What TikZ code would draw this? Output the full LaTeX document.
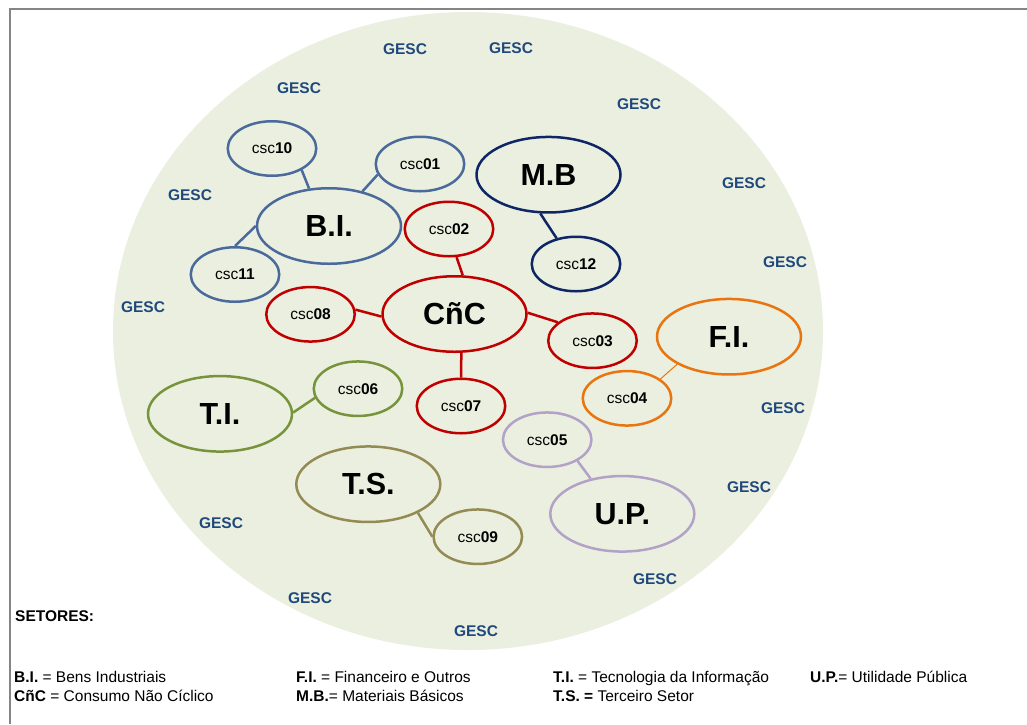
\documentclass[tikz,border=0pt]{standalone}
\usepackage{fontspec}
\setmainfont{Liberation Sans}
\usepackage{xcolor}
\usetikzlibrary{shapes.geometric}
\definecolor{fundo}{HTML}{EBEFDF}
\definecolor{moldura}{HTML}{858585}
\definecolor{gescazul}{HTML}{1F497D}
\definecolor{biazul}{HTML}{4A6A9C}
\definecolor{mbazul}{HTML}{0E2666}
\definecolor{cncvermelho}{HTML}{C00000}
\definecolor{filaranja}{HTML}{E8750F}
\definecolor{tiverde}{HTML}{77933C}
\definecolor{tsbege}{HTML}{948A54}
\definecolor{uplilas}{HTML}{B3A2C7}
\tikzset{
	setor/.style={ellipse, draw=#1, line width=2.5pt, inner sep=0pt,
			minimum width=144pt, minimum height=75.5pt,
			font=\fontsize{30.5}{34}\selectfont\bfseries},
	cscno/.style={ellipse, draw=#1, line width=2.5pt, inner sep=0pt,
			minimum width=88.5pt, minimum height=54.5pt,
			font=\fontsize{15.5}{18}\selectfont},
	gesc/.style={text=gescazul, inner sep=0pt,
			font=\fontsize{15.5}{18}\selectfont\bfseries},
	legenda/.style={anchor=base west, inner sep=0pt,
			font=\fontsize{15.5}{18}\selectfont},
	liga/.style={draw=#1, line width=2.5pt}
}

\begin{document}
\begin{tikzpicture}[x=1pt, y=-1pt]
	\useasboundingbox (0,0) rectangle (1027,724);
	\fill[white] (0,0) rectangle (1027,724);
	% moldura e fundo
	\draw[moldura, line width=2pt] (10,724) -- (10,8.5) -- (1027,8.5);
	\fill[fundo] (468,331) ellipse [x radius=355pt, y radius=319pt];

	% setores
	\node[setor=biazul] (BI) at (329,226) {B.I.};
	\node[setor=mbazul] (MB) at (548.5,174.7) {M.B};
	\node[setor=cncvermelho] (CnC) at (454.5,314) {CñC};
	\node[setor=filaranja] (FI) at (729,336.7) {F.I.};
	\node[setor=tiverde] (TI) at (220,413.8) {T.I.};
	\node[setor=tsbege] (TS) at (368.3,484.2) {T.S.};
	\node[setor=uplilas] (UP) at (622.3,513.8) {U.P.};

	% escolas
	\node[cscno=biazul] (c10) at (272,148.5) {csc\textbf{10}};
	\node[cscno=biazul] (c01) at (420,164) {csc\textbf{01}};
	\node[cscno=biazul] (c11) at (235,274.5) {csc\textbf{11}};
	\node[cscno=mbazul] (c12) at (576,264) {csc\textbf{12}};
	\node[cscno=cncvermelho] (c02) at (449,229) {csc\textbf{02}};
	\node[cscno=cncvermelho] (c08) at (310.5,314.3) {csc\textbf{08}};
	\node[cscno=cncvermelho] (c03) at (592.5,340.7) {csc\textbf{03}};
	\node[cscno=cncvermelho] (c07) at (461,406) {csc\textbf{07}};
	\node[cscno=filaranja] (c04) at (627,398.3) {csc\textbf{04}};
	\node[cscno=tiverde] (c06) at (358,388.7) {csc\textbf{06}};
	\node[cscno=tsbege] (c09) at (477.8,536.7) {csc\textbf{09}};
	\node[cscno=uplilas] (c05) at (547.2,439.7) {csc\textbf{05}};

	% ligacoes
	\draw[liga=biazul] (c10.324) -- (BI.118);
	\draw[liga=biazul] (c01.194) -- (BI.46);
	\draw[liga=biazul] (c11.north) -- (BI.west);
	\draw[liga=mbazul] (MB.258) -- (c12.127);
	\draw[liga=cncvermelho] (c02.285) -- (CnC.78);
	\draw[liga=cncvermelho] (c08.6) -- (CnC.182);
	\draw[liga=cncvermelho] (CnC.1) -- (c03.152);
	\draw[liga=cncvermelho] (CnC.280) -- (c07.north);
	\draw[filaranja, line width=1pt] (FI.208) -- (c04.30);
	\draw[liga=tiverde] (TI.1) -- (c06.192);
	\draw[liga=tsbege] (TS.330) -- (c09.west);
	\draw[liga=uplilas] (c05.325) -- (UP.132);

	% GESC
	\node[gesc] (g1) at (405,49) {GESC};
	\node[gesc] (g2) at (511,48) {GESC};
	\node[gesc] (g3) at (299,88) {GESC};
	\node[gesc] (g4) at (639,104) {GESC};
	\node[gesc] (g5) at (190,195) {GESC};
	\node[gesc] (g6) at (744,183) {GESC};
	\node[gesc] (g7) at (785,262) {GESC};
	\node[gesc] (g8) at (143,307) {GESC};
	\node[gesc] (g9) at (783,408) {GESC};
	\node[gesc] (g10) at (749,487) {GESC};
	\node[gesc] (g11) at (221,523) {GESC};
	\node[gesc] (g12) at (655,579) {GESC};
	\node[gesc] (g13) at (310,598) {GESC};
	\node[gesc] (g14) at (476,631) {GESC};

	% legenda
	\node[legenda] (setores) at (15,621.5) {\textbf{SETORES:}};
	\node[legenda] (legBI) at (14,682.5) {\textbf{B.I.} = Bens Industriais};
	\node[legenda] (legCnC) at (14,701.5) {\textbf{CñC} = Consumo Não Cíclico};
	\node[legenda] (legFI) at (296,682.5) {\textbf{F.I.} = Financeiro e Outros};
	\node[legenda] (legMB) at (296,701.5) {\textbf{M.B.}= Materiais Básicos};
	\node[legenda] (legTI) at (553,682.5) {\textbf{T.I.} = Tecnologia da Informação};
	\node[legenda] (legTS) at (553,701.5) {\textbf{T.S. =} Terceiro Setor};
	\node[legenda] (legUP) at (810,682.5) {\textbf{U.P.}= Utilidade Pública};
\end{tikzpicture}
\end{document}
